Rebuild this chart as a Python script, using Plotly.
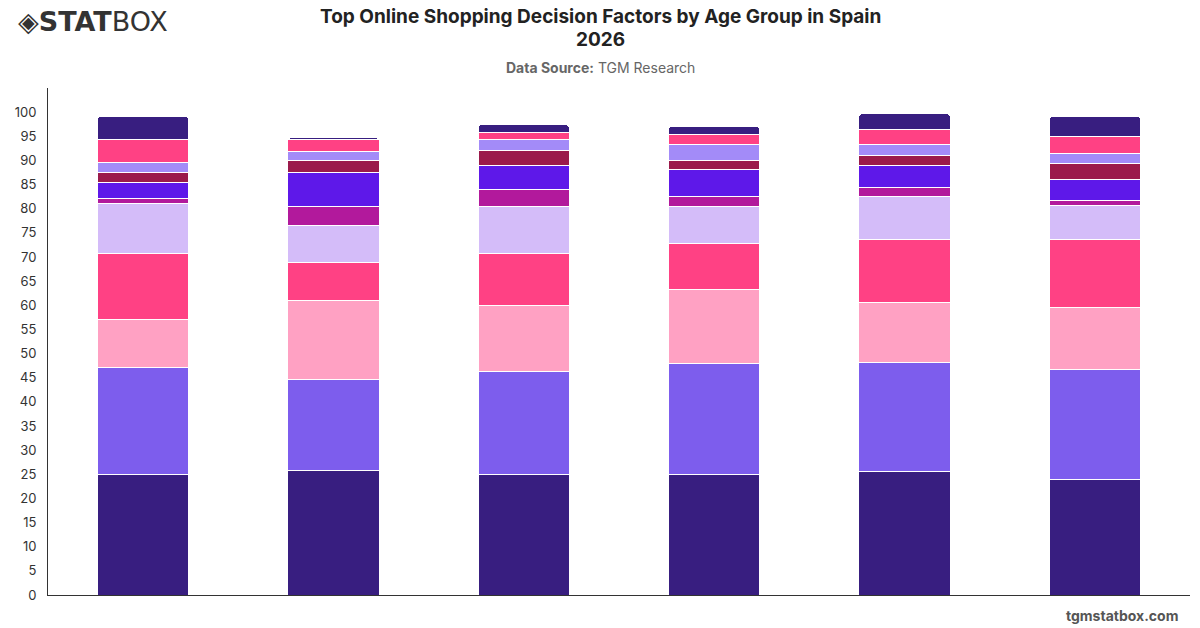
import plotly.graph_objects as go

age_groups = ["18-24", "25-34", "35-44", "45-54", "55-64", "65+"]
y_ticks = list(range(0, 101, 5))

price = [25.0, 25.8, 25.0, 25.0, 25.5, 24.0]
free_delivery = [22.1, 18.8, 21.2, 23.0, 22.7, 22.8]
product_reviews = [10.0, 16.4, 13.8, 15.3, 12.3, 12.8]
fast_delivery = [13.6, 7.9, 10.7, 9.4, 13.1, 14.0]
easy_returns = [10.4, 7.6, 9.8, 7.8, 8.9, 7.1]
brand_reputation = [1.0, 4.0, 3.5, 2.0, 1.8, 1.0]
discounts = [3.3, 7.0, 5.0, 5.6, 4.7, 4.4]
payment_options = [2.1, 2.5, 3.1, 1.9, 2.0, 3.3]
secure_checkout = [2.1, 1.9, 2.2, 3.3, 2.3, 2.0]
product_range = [4.7, 2.4, 1.5, 2.1, 3.1, 3.6]
other = [4.9, 0.5, 1.6, 1.7, 3.3, 4.2]

series = [
    ("Price", price, "#381e80"),
    ("Free delivery", free_delivery, "#7d5ded"),
    ("Product reviews", product_reviews, "#ffa1c3"),
    ("Fast delivery", fast_delivery, "#ff4184"),
    ("Easy returns", easy_returns, "#d4bcf9"),
    ("Brand reputation", brand_reputation, "#b2199c"),
    ("Discounts", discounts, "#5e18e9"),
    ("Payment options", payment_options, "#9b1a4b"),
    ("Secure checkout", secure_checkout, "#a38bf8"),
    ("Product range", product_range, "#ff4184"),
    ("Other", other, "#381e80"),
]

fig = go.Figure()
for name, vals, color in series:
    fig.add_trace(go.Bar(
        x=age_groups, y=vals, name=name,
        marker=dict(color=color, line=dict(color="#ffffff", width=1)),
        width=0.48,
    ))

W, H = 1200, 628
ML, MR, MT, MB = 48, 10, 88, 33
pw = W - ML - MR
ph = H - MT - MB


def px(x):
    return (x - ML) / pw


def py(y):
    return (H - MB - y) / ph


fig.update_layout(
    barmode="stack",
    barcornerradius=4,
    width=W, height=H,
    margin=dict(l=ML, r=MR, t=MT, b=MB),
    paper_bgcolor="#ffffff",
    plot_bgcolor="#ffffff",
    showlegend=False,
    font=dict(family="Inter, Roboto, sans-serif", color="#333333"),
    xaxis=dict(
        showticklabels=False, showgrid=False, zeroline=False,
        showline=True, linecolor="#333333", linewidth=1, ticks="",
    ),
    yaxis=dict(
        range=[0, 105], tickmode="array", tickvals=y_ticks,
        ticktext=[str(v) for v in y_ticks],
        showgrid=False, zeroline=False,
        showline=True, linecolor="#333333", linewidth=1,
        ticks="", ticklabelstandoff=8,
        tickfont=dict(size=13, color="#333333"),
    ),
    annotations=[
        dict(text="<b>Top Online Shopping Decision Factors by Age Group in Spain</b>",
             x=px(600), y=py(17), xref="paper", yref="paper", showarrow=False,
             xanchor="center", yanchor="middle", font=dict(size=19, color="#222222")),
        dict(text="<b>2026</b>",
             x=px(600), y=py(40), xref="paper", yref="paper", showarrow=False,
             xanchor="center", yanchor="middle", font=dict(size=19, color="#222222")),
        dict(text="<b>Data Source:</b> TGM Research", x=px(600), y=py(67),
             xref="paper", yref="paper", xanchor="center", yanchor="middle",
             showarrow=False, font=dict(size=14, color="#666666")),
        dict(text="<b>tgmstatbox.com</b>", x=px(1180), y=py(615), xref="paper", yref="paper",
             xanchor="right", yanchor="middle", showarrow=False,
             font=dict(size=14, color="#555555")),
        dict(text="<b>◈</b><b>STAT</b>BOX", x=px(16), y=py(21), xref="paper", yref="paper",
             xanchor="left", yanchor="middle", showarrow=False,
             font=dict(size=27, color="#333333", family="DejaVu Sans")),
    ],
)

fig.write_html("out.html")
